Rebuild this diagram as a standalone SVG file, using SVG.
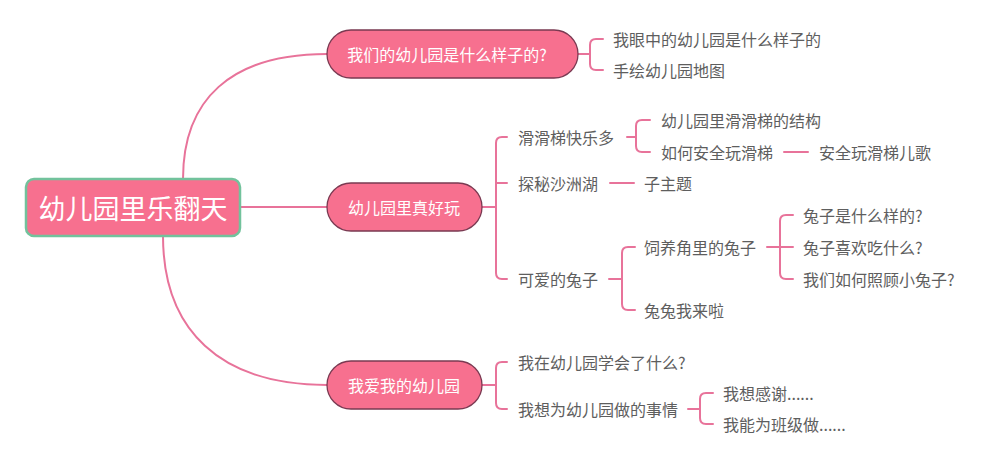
<svg xmlns="http://www.w3.org/2000/svg" width="1000" height="463" viewBox="0 0 1000 463">
<style>
.bg{fill:#ffffff}
.root{fill:#f7708f;stroke:#72c29c;stroke-width:2.5}
.pill{fill:#f7708f;stroke:#7a3a52;stroke-width:1.3}
.rt{font-family:"Noto Sans CJK SC","Noto Sans",sans-serif;font-size:27px;fill:#ffffff;text-anchor:middle;dominant-baseline:central}
.pt{font-family:"Noto Sans CJK SC","Noto Sans",sans-serif;font-size:16px;fill:#ffffff;text-anchor:middle;dominant-baseline:central}
.ct{font-family:"Noto Sans CJK SC","Noto Sans",sans-serif;font-size:16px;fill:#5e5e5e;dominant-baseline:central}
.ln{fill:none;stroke:#e8739a;stroke-width:2;stroke-linecap:round}
</style>
<rect class="bg" x="0" y="0" width="1000" height="463"/>
<g id="connectors">
<path class="ln" d="M183,179 C183,100 230,54 327,54"/>
<path class="ln" d="M240,207 H327"/>
<path class="ln" d="M163,236 C163,330 220,385 327,385"/>
<path class="ln" d="M578,54 H590 M603,39 H596 Q590,39 590,45 V64 Q590,70 596,70 H603"/>
<path class="ln" d="M482,207 H496 M507,137 H502 Q496,137 496,143 V273 Q496,279 502,279 H507 M496,183 H507"/>
<path class="ln" d="M627,137 H636 M650,120 H642 Q636,120 636,126 V146 Q636,152 642,152 H650"/>
<path class="ln" d="M784,152 H808"/>
<path class="ln" d="M610,183 H634"/>
<path class="ln" d="M609,279 H622 M635,247 H628 Q622,247 622,253 V304 Q622,310 628,310 H635"/>
<path class="ln" d="M767,247 H793 M793,215 H786 Q780,215 780,221 V273 Q780,279 786,279 H793"/>
<path class="ln" d="M482,385 H496 M507,362 H502 Q496,362 496,368 V403 Q496,409 502,409 H507"/>
<path class="ln" d="M688,409 H700 M713,393 H706 Q700,393 700,399 V418 Q700,424 706,424 H713"/>
</g>
<g id="root">
<rect class="root" x="26" y="179" width="214" height="57" rx="8"/>
<text class="rt" x="133" y="207">幼儿园里乐翻天</text>
</g>
<g id="branch1">
<rect class="pill" x="327" y="30" width="251" height="48" rx="24"/>
<text class="pt" x="447" y="54">我们的幼儿园是什么样子的?</text>
</g>
<g id="branch2">
<rect class="pill" x="327" y="183" width="155" height="48" rx="24"/>
<text class="pt" x="404" y="207">幼儿园里真好玩</text>
</g>
<g id="branch3">
<rect class="pill" x="327" y="361" width="155" height="48" rx="24"/>
<text class="pt" x="404" y="385">我爱我的幼儿园</text>
</g>
<g id="n1a"><text class="ct" x="613" y="39">我眼中的幼儿园是什么样子的</text></g>
<g id="n1b"><text class="ct" x="613" y="70">手绘幼儿园地图</text></g>
<g id="n2a"><text class="ct" x="518" y="137">滑滑梯快乐多</text></g>
<g id="n2a1"><text class="ct" x="661" y="120">幼儿园里滑滑梯的结构</text></g>
<g id="n2a2"><text class="ct" x="661" y="152">如何安全玩滑梯</text></g>
<g id="n2a2a"><text class="ct" x="819" y="152">安全玩滑梯儿歌</text></g>
<g id="n2b"><text class="ct" x="518" y="183">探秘沙洲湖</text></g>
<g id="n2b1"><text class="ct" x="644" y="183">子主题</text></g>
<g id="n2c"><text class="ct" x="518" y="279">可爱的兔子</text></g>
<g id="n2c1"><text class="ct" x="644" y="247">饲养角里的兔子</text></g>
<g id="n2c1a"><text class="ct" x="803" y="215">兔子是什么样的?</text></g>
<g id="n2c1b"><text class="ct" x="803" y="247">兔子喜欢吃什么?</text></g>
<g id="n2c1c"><text class="ct" x="803" y="279">我们如何照顾小兔子?</text></g>
<g id="n2c2"><text class="ct" x="644" y="310">兔兔我来啦</text></g>
<g id="n3a"><text class="ct" x="518" y="362">我在幼儿园学会了什么?</text></g>
<g id="n3b"><text class="ct" x="518" y="409">我想为幼儿园做的事情</text></g>
<g id="n3b1"><text class="ct" x="723" y="393">我想感谢......</text></g>
<g id="n3b2"><text class="ct" x="723" y="424">我能为班级做......</text></g>
</svg>
